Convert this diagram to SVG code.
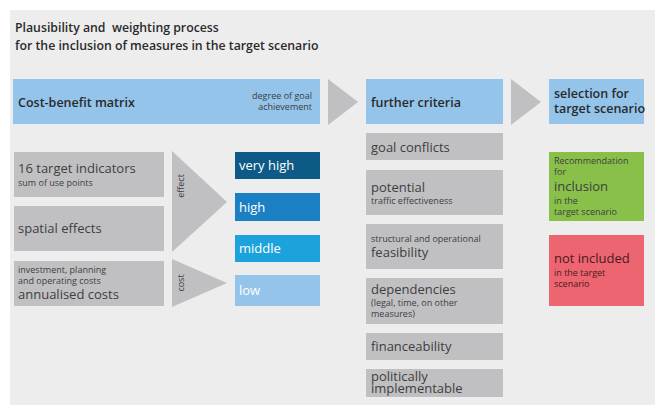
<svg xmlns="http://www.w3.org/2000/svg" width="660" height="405" viewBox="0 0 660 405">
<style>
text{font-family:"Open Sans","Noto Sans","DejaVu Sans",sans-serif;fill:#3e3e40}
.t{font-size:12.3px;font-weight:600;fill:#2a2a2c}
.h{font-size:12.5px;font-weight:600;fill:#2a2a2c}
.l{font-size:13px}
.s{font-size:9px}
.g{fill:#c0c0c3}
.w{fill:#fff}
.r{fill:#4a1a1e}
</style>
<rect x="0" y="0" width="660" height="405" fill="#ffffff"/>
<rect x="10" y="10" width="645" height="395" fill="#ededed"/>
<g id="title">
<text class="t" x="15" y="32" xml:space="preserve">Plausibility and  weighting process</text>
<text class="t" x="15" y="50">for the inclusion of measures in the target scenario</text>
</g>
<g id="connectors">
<polygon points="328,79 358,102 328,125" fill="#c0c0c3"/>
<polygon points="511,79 541,102 511,125" fill="#c0c0c3"/>
<polygon points="172,151 227,202 172,252" fill="#c0c0c3"/>
<polygon points="172,259 227,283 172,307" fill="#c0c0c3"/>
<text class="s" transform="translate(184,186) rotate(-90)" text-anchor="middle">effect</text>
<text class="s" transform="translate(184,283) rotate(-90)" text-anchor="middle">cost</text>
</g>
<g id="cost-benefit">
<rect x="13" y="79" width="307" height="45" fill="#94c4ea"/>
<text class="h" x="18" y="107">Cost-benefit matrix</text>
<text class="s" x="312" y="99" text-anchor="end">degree of goal</text>
<text class="s" x="312" y="110" text-anchor="end">achievement</text>
</g>
<g id="further-criteria">
<rect x="366" y="79" width="137" height="45" fill="#94c4ea"/>
<text class="h" x="371" y="107">further criteria</text>
</g>
<g id="selection">
<rect x="549" y="79" width="95" height="45" fill="#94c4ea"/>
<text class="h" x="554" y="98">selection for</text>
<text class="h" x="554" y="113">target scenario</text>
</g>
<g id="target-indicators">
<rect class="g" x="14" y="152" width="150" height="45"/>
<text class="l" x="18" y="173">16 target indicators</text>
<text class="s" x="18" y="186">sum of use points</text>
</g>
<g id="spatial-effects">
<rect class="g" x="14" y="206" width="150" height="45"/>
<text class="l" x="18" y="233">spatial effects</text>
</g>
<g id="costs">
<rect class="g" x="14" y="261" width="150" height="45"/>
<text class="s" x="18" y="273">investment, planning</text>
<text class="s" x="18" y="284">and operating costs</text>
<text class="l" x="18" y="299">annualised costs</text>
</g>
<g id="very-high">
<rect x="235" y="152" width="85" height="27" fill="#0e5a86"/>
<text class="l w" x="239" y="170">very high</text>
</g>
<g id="high">
<rect x="235" y="193" width="85" height="28" fill="#1b7fc3"/>
<text class="l w" x="239" y="212">high</text>
</g>
<g id="middle">
<rect x="235" y="235" width="85" height="27" fill="#1ca3dc"/>
<text class="l w" x="239" y="253">middle</text>
</g>
<g id="low">
<rect x="235" y="275" width="85" height="31" fill="#94c4ea"/>
<text class="l w" x="239" y="295">low</text>
</g>
<g id="goal-conflicts">
<rect class="g" x="366" y="133" width="137" height="27"/>
<text class="l" x="371" y="152">goal conflicts</text>
</g>
<g id="potential">
<rect class="g" x="366" y="170" width="137" height="45"/>
<text class="l" x="371" y="192">potential</text>
<text class="s" x="371" y="204">traffic effectiveness</text>
</g>
<g id="feasibility">
<rect class="g" x="366" y="224" width="137" height="45"/>
<text class="s" x="371" y="242">structural and operational</text>
<text class="l" x="371" y="257">feasibility</text>
</g>
<g id="dependencies">
<rect class="g" x="366" y="278" width="137" height="46"/>
<text class="l" x="371" y="294">dependencies</text>
<text class="s" x="371" y="306">(legal, time, on other</text>
<text class="s" x="371" y="317">measures)</text>
</g>
<g id="financeability">
<rect class="g" x="366" y="333" width="137" height="27"/>
<text class="l" x="371" y="351">financeability</text>
</g>
<g id="politically">
<rect class="g" x="366" y="369" width="137" height="28"/>
<text class="l" x="371" y="381">politically</text>
<text class="l" x="371" y="393">implementable</text>
</g>
<g id="inclusion">
<rect x="549" y="152" width="95" height="69" fill="#88c04a"/>
<text class="s" x="554" y="164">Recommendation</text>
<text class="s" x="554" y="175">for</text>
<text class="l" x="554" y="191">inclusion</text>
<text class="s" x="554" y="204">in the</text>
<text class="s" x="554" y="215">target scenario</text>
</g>
<g id="not-included">
<rect x="549" y="235" width="95" height="71" fill="#ec6570"/>
<text class="l r" x="554" y="263">not included</text>
<text class="s r" x="554" y="276">in the target</text>
<text class="s r" x="554" y="287">scenario</text>
</g>
</svg>
